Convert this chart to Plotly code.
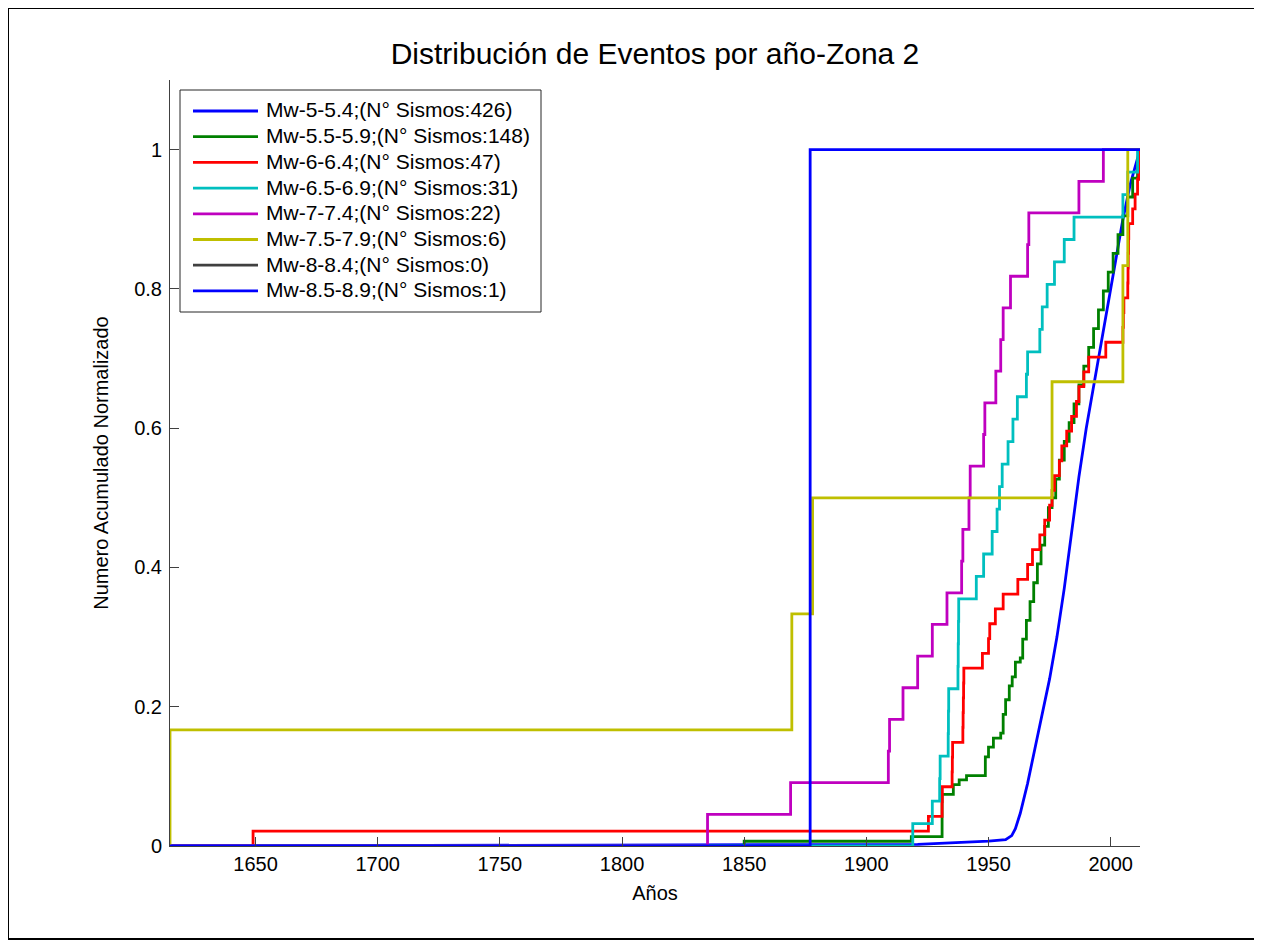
import plotly.graph_objects as go

# ---------------- data ----------------
series_names = [
    "Mw-5-5.4;(N° Sismos:426)",
    "Mw-5.5-5.9;(N° Sismos:148)",
    "Mw-6-6.4;(N° Sismos:47)",
    "Mw-6.5-6.9;(N° Sismos:31)",
    "Mw-7-7.4;(N° Sismos:22)",
    "Mw-7.5-7.9;(N° Sismos:6)",
    "Mw-8-8.4;(N° Sismos:0)",
    "Mw-8.5-8.9;(N° Sismos:1)",
]
series_colors = ["#0000FF", "#008000", "#FF0000", "#00BFBF",
                 "#BF00BF", "#BFBF00", "#404040", "#0000FF"]

x_start = 1615
x_end = 2012

# Mw 5-5.4 (426 events): cumulative curve read as (year, normalized count)
m50_years = [1615, 1921, 1950, 1957, 1959.5, 1961, 1963, 1966, 1969, 1972,
             1975, 1978, 1981, 1984, 1987, 1990, 1993, 1996, 1999, 2002,
             2005, 2008, 2012]
m50_vals = [0, 0.0023, 0.007, 0.009, 0.015, 0.025, 0.047, 0.09, 0.14, 0.19,
            0.24, 0.30, 0.37, 0.45, 0.53, 0.60, 0.66, 0.72, 0.78, 0.84,
            0.90, 0.95, 1.0]

# Mw 5.5-5.9 (148 events): step breakpoints (year, normalized count)
m55_years = [1615, 1850, 1918.4, 1931, 1935.6, 1938, 1941, 1948.7, 1950, 1952,
             1955, 1956, 1957, 1958.5, 1959.7, 1961, 1963, 1964, 1965.5, 1967,
             1968.5, 1970, 1971.5, 1973, 1974.5, 1976, 1977.5, 1979, 1981, 1983,
             1985, 1987, 1989, 1991, 1993, 1995, 1997, 1999, 2001, 2003,
             2005, 2007, 2009, 2011, 2012]
m55_vals = [0, 0.0068, 0.0135, 0.074, 0.088, 0.095, 0.101, 0.128, 0.142, 0.155,
            0.162, 0.189, 0.21, 0.23, 0.243, 0.264, 0.27, 0.297, 0.324, 0.351,
            0.378, 0.405, 0.432, 0.459, 0.486, 0.5, 0.527, 0.554, 0.581, 0.608,
            0.635, 0.662, 0.689, 0.716, 0.743, 0.77, 0.797, 0.824, 0.851, 0.878,
            0.905, 0.932, 0.959, 0.986, 1.0]

# Mw 6-6.4 : event years (47 events)
m60_events = [1649, 1925.4, 1931.0, 1931.1, 1935.1, 1935.2, 1935.3, 1939.5,
              1939.6, 1939.7, 1939.8, 1939.9, 1947.5, 1950, 1950.5, 1952.8,
              1956, 1962, 1966, 1968, 1971, 1973, 1975, 1976, 1977, 1979,
              1980, 1982, 1984, 1986, 1987, 1989, 1991, 1998, 2005, 2005.2,
              2005.4, 2007, 2007.1, 2007.2, 2007.3, 2007.4, 2009, 2010, 2011,
              2011.5, 2012]

# Mw 6.5-6.9 : event years (31 events)
m65_events = [1919, 1927, 1930, 1930.2, 1933.5, 1933.6, 1933.7, 1937.5,
              1937.6, 1937.7, 1937.8, 1945, 1948, 1951.5, 1953.5, 1954.5,
              1955.6, 1958, 1960, 1961.8, 1965.5, 1966, 1971, 1972, 1974,
              1977, 1981, 1985, 2005, 2007, 2011]

# Mw 7-7.4 : event years (22 events)
m70_events = [1835, 1869, 1909, 1909.5, 1915, 1921, 1927, 1933, 1939, 1939.5,
              1942, 1942.5, 1948, 1948.5, 1953, 1955, 1956, 1959, 1966, 1966.5,
              1987, 1997]

# Mw 7.5-7.9 : event years (6 events)
m75_events = [1615, 1869.5, 1878, 1976, 2005, 2007]

# Mw 8.5-8.9 : event years (1 event)
m85_events = [1877]

x_ticks = [1650, 1700, 1750, 1800, 1850, 1900, 1950, 2000]
y_ticks = [0, 0.2, 0.4, 0.6, 0.8, 1]
y_tick_labels = ["0", "0.2", "0.4", "0.6", "0.8", "1"]


def steps_from_events(events):
    n = len(events)
    xs = [x_start]
    ys = [0.0]
    for k, e in enumerate(events, start=1):
        xs.append(e)
        ys.append(k / n)
    xs.append(x_end)
    ys.append(1.0)
    return xs, ys


FONT = "Arial, 'Liberation Sans', Helvetica, sans-serif"
fig = go.Figure()

traces = [
    (m50_years, m50_vals, "linear"),
    (m55_years, m55_vals, "hv"),
    steps_from_events(m60_events) + ("hv",),
    steps_from_events(m65_events) + ("hv",),
    steps_from_events(m70_events) + ("hv",),
    steps_from_events(m75_events) + ("hv",),
    ([None], [None], "hv"),
    steps_from_events(m85_events) + ("hv",),
]

LW = 2.8
for (xs, ys, shape), name, col in zip(traces, series_names, series_colors):
    fig.add_trace(go.Scatter(
        x=xs, y=ys, mode="lines", name=name, showlegend=False,
        line=dict(color=col, width=LW, shape=shape),
    ))

# The page body adds an 8px margin, so the figure is laid out 8px smaller.
OFF = 8
W, H = 1262 - OFF, 946 - OFF
SL, SR, ST, SB = 170, 1140, 80, 846          # plot area in page pixels
L, R, T, B = SL - OFF, SR - OFF, ST - OFF, SB - OFF
pw, ph = R - L, B - T


def px(sx):
    return (sx - SL) / pw


def py(sy):
    return (SB - sy) / ph


fig.update_layout(
    width=W, height=H,
    margin=dict(l=L, r=W - R, t=T, b=H - B, pad=0),
    paper_bgcolor="white", plot_bgcolor="white",
    font=dict(family=FONT, size=20, color="black"),
    title=dict(text="Distribución de Eventos por año-Zona 2",
               x=(L + R) / 2 / W, xanchor="center",
               y=1 - (53 - OFF) / H, yanchor="middle",
               font=dict(size=30, family=FONT, color="black")),
    showlegend=False,
)

fig.update_xaxes(
    range=[x_start, x_end], tickvals=x_ticks,
    ticks="inside", ticklen=9, tickcolor="#404040",
    showline=True, linecolor="#404040", linewidth=1,
    showgrid=False, zeroline=False, mirror=False,
    tickfont=dict(size=20, family=FONT, color="black"),
    title=dict(text="Años", font=dict(size=20, family=FONT), standoff=11),
)
fig.update_yaxes(
    range=[0, 1.1], tickvals=y_ticks, ticktext=y_tick_labels,
    ticks="inside", ticklen=9, tickcolor="#404040",
    showline=True, linecolor="#404040", linewidth=1,
    showgrid=False, zeroline=False, mirror=False,
    ticklabelstandoff=3,
    tickfont=dict(size=20, family=FONT, color="black"),
    title=dict(text="Numero Acumulado Normalizado",
               font=dict(size=20, family=FONT), standoff=20),
)

# outer figure border (page pixels 8..1258 x 8..939)
fig.add_shape(type="rect", xref="paper", yref="paper",
              x0=px(8), x1=px(1258), y0=py(939), y1=py(8),
              line=dict(color="black", width=2), fillcolor="rgba(0,0,0,0)",
              layer="below")

# legend (MATLAB style): box, line samples and labels
LEG_X0, LEG_X1, LEG_Y0, LEG_Y1 = 180, 541, 90, 312
fig.add_shape(type="rect", xref="paper", yref="paper",
              x0=px(LEG_X0), x1=px(LEG_X1), y0=py(LEG_Y1), y1=py(LEG_Y0),
              line=dict(color="#262626", width=1), fillcolor="white",
              layer="above")
row0, row_step = 110, 25.7
for i, (name, col) in enumerate(zip(series_names, series_colors)):
    ry = row0 + i * row_step
    fig.add_shape(type="line", xref="paper", yref="paper",
                  x0=px(193), x1=px(258), y0=py(ry + 1), y1=py(ry + 1),
                  line=dict(color=col, width=LW), layer="above")
    fig.add_annotation(xref="paper", yref="paper", x=px(264), y=py(ry),
                       xanchor="left", yanchor="middle", showarrow=False,
                       text=name, font=dict(size=21, family=FONT,
                                            color="black"))

fig.write_html("out.html")
